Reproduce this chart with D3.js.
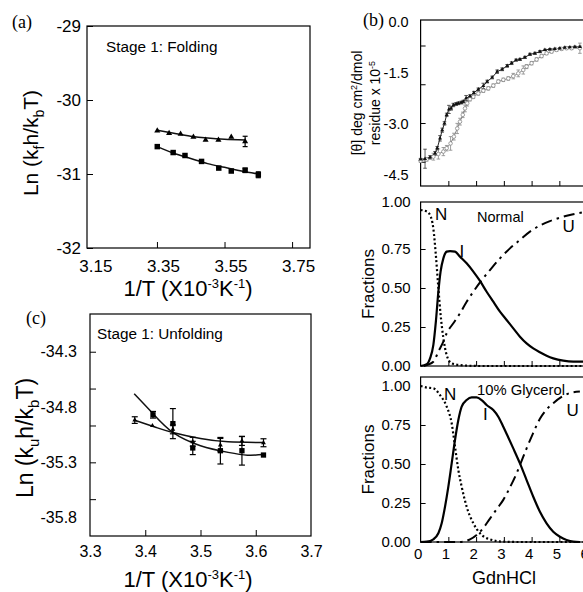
<!DOCTYPE html>
<html><head><meta charset="utf-8">
<script src="https://cdn.jsdelivr.net/npm/d3@7"></script>
<style>
body{margin:0;background:#fff;}
svg{display:block;}
</style></head><body>
<svg id="chart" width="583" height="592"></svg>
<script>
// ---------- Panel (a): Stage 1 folding ----------
const aTempTri = [3.351,3.386,3.420,3.458,3.494,3.532,3.570,3.611];
const aLnTri   = [-30.415,-30.45,-30.46,-30.50,-30.54,-30.54,-30.50,-30.56];
const aErrTri  = [0,0,0,0,0,0,0,0.07];
const aTempSq  = [3.351,3.398,3.433,3.482,3.533,3.570,3.611,3.650];
const aLnSq    = [-30.63,-30.71,-30.75,-30.83,-30.92,-30.96,-30.95,-31.01];
const aErrSq   = [0,0,0,0,0,0,0.03,0.04];
const aFitTriX = [3.351,3.40,3.45,3.50,3.55,3.611];
const aFitTriY = [-30.41,-30.45,-30.49,-30.515,-30.53,-30.54];
const aFitSqX  = [3.351,3.40,3.45,3.50,3.55,3.60,3.65];
const aFitSqY  = [-30.63,-30.72,-30.79,-30.86,-30.91,-30.96,-31.0];
const aXTicks  = [3.15,3.35,3.55,3.75];
const aYTicks  = [-29,-30,-31,-32];

// ---------- Panel (c): Stage 1 unfolding ----------
const cTempSq  = [3.414,3.450,3.486,3.536,3.575,3.614];
const cLnSq    = [-34.87,-34.95,-35.17,-35.195,-35.195,-35.234];
const cErrSq   = [0.03,0.136,0.06,0.12,0.13,0];
const cTempTri = [3.381,3.413,3.450,3.486,3.536,3.575,3.614];
const cLnTri   = [-34.918,-34.969,-35.002,-35.114,-35.144,-35.107,-35.123];
const cErrTri  = [0.03,0,0.04,0.04,0.06,0.04,0.036];
const cFitSqX  = [3.38,3.414,3.45,3.50,3.55,3.585,3.614];
const cFitSqY  = [-34.68,-34.86,-35.03,-35.15,-35.21,-35.235,-35.23];
const cFitTriX = [3.381,3.42,3.45,3.50,3.55,3.614];
const cFitTriY = [-34.92,-34.985,-35.03,-35.085,-35.115,-35.12];
const cXTicks  = [3.3,3.4,3.5,3.6,3.7];
const cYLabels = [-34.3,-34.8,-35.3,-35.8];
const cYMinor  = [-34.3,-34.633,-34.967,-35.3,-35.633];

// ---------- Panel (b): ellipticity vs GdnHCl ----------
const bFilledX = [0,0.16,0.34,0.52,0.60,0.70,0.78,0.86,0.94,1.02,1.10,1.18,1.28,1.36,1.46,1.54,1.64,1.78,1.92,2.08,2.26,2.40,2.58,2.76,2.94,3.12,3.28,3.44,3.58,3.76,3.94,4.12,4.30,4.48,4.66,4.84,5.02,5.20,5.38,5.56,5.74];
const bFilledY = [-4.05,-4.03,-3.99,-3.87,-3.72,-3.43,-3.19,-2.99,-2.74,-2.58,-2.55,-2.45,-2.42,-2.40,-2.38,-2.35,-2.25,-2.19,-2.09,-1.99,-1.89,-1.76,-1.64,-1.47,-1.40,-1.30,-1.22,-1.13,-1.11,-1.05,-0.96,-0.93,-0.88,-0.83,-0.81,-0.80,-0.78,-0.76,-0.75,-0.74,-0.74];
const bFilledE = [0.03,0.28,0.05,0.05,0.05,0.08,0.06,0.05,0.05,0.12,0.05,0.05,0.04,0.04,0.04,0.04,0.08,0.04,0.04,0.04,0.08,0.04,0.04,0.05,0.04,0.04,0.04,0.03,0.03,0.03,0.03,0.03,0.03,0.02,0.02,0.02,0.02,0.02,0.02,0.02,0.02];
const bOpenX = [0,0.22,0.46,0.64,0.82,0.94,1.08,1.20,1.32,1.42,1.52,1.60,1.68,1.78,1.90,2.08,2.26,2.44,2.62,2.80,2.98,3.16,3.34,3.52,3.70,3.82,4.00,4.18,4.36,4.54,4.72,4.90,5.08,5.26,5.44,5.74];
const bOpenY = [-4.09,-4.05,-3.97,-3.89,-3.82,-3.72,-3.58,-3.38,-3.14,-2.94,-2.74,-2.55,-2.40,-2.28,-2.21,-2.11,-2.03,-1.96,-1.88,-1.76,-1.71,-1.67,-1.60,-1.52,-1.42,-1.32,-1.22,-1.11,-1.01,-0.93,-0.88,-0.83,-0.80,-0.78,-0.78,-0.78];
const bOpenE = [0.05,0.05,0.1,0.15,0.12,0.08,0.2,0.1,0.15,0.1,0.08,0.1,0.08,0.05,0.05,0.05,0.05,0.05,0.05,0.05,0.05,0.05,0.08,0.1,0.12,0.06,0.05,0.05,0.05,0.04,0.04,0.04,0.04,0.04,0.04,0.15];
const bTopLabels = [0,-1.5,-3,-4.5];
const bTopMinor  = [-0.70,-1.84,-2.98,-4.12];
const gdnTicks   = [0,1,2,3,4,5,6];
const fracTicks  = [0,0.25,0.5,0.75,1];

// Normal fractions
const nNx = [0,0.22,0.34,0.46,0.55,0.64,0.72,0.82,0.94,1.12,1.42,2.14,3.5,6];
const nNy = [1.0,0.99,0.968,0.88,0.71,0.50,0.33,0.18,0.07,0.017,0.006,0.0,0.0,0.0];
const nIx = [0,0.22,0.34,0.46,0.55,0.64,0.72,0.82,0.94,1.06,1.24,1.42,1.66,1.90,2.14,2.38,2.62,2.86,3.10,3.34,3.58,3.82,4.06,4.30,4.54,4.78,5.14,5.50,5.86];
const nIy = [0.0,0.011,0.049,0.135,0.284,0.476,0.605,0.690,0.733,0.737,0.733,0.701,0.658,0.605,0.545,0.476,0.412,0.348,0.295,0.241,0.188,0.145,0.113,0.088,0.066,0.049,0.034,0.028,0.028];
const nUx = [0.12,0.46,0.64,0.82,0.94,1.18,1.42,1.66,1.90,2.14,2.50,2.86,3.22,3.58,3.94,4.30,4.66,5.02,5.38,5.86];
const nUy = [0.0,0.027,0.092,0.156,0.21,0.274,0.338,0.412,0.476,0.536,0.615,0.69,0.754,0.808,0.861,0.90,0.929,0.951,0.968,0.985];

// 10% glycerol fractions
const gNx = [0,0.22,0.46,0.70,0.94,1.12,1.24,1.36,1.48,1.66,1.90,2.14,2.50,2.98,3.58,6];
const gNy = [1.0,0.99,0.985,0.942,0.868,0.761,0.611,0.462,0.355,0.226,0.12,0.056,0.017,0.002,0.0,0.0];
const gIx = [0,0.22,0.46,0.64,0.76,0.88,1.00,1.12,1.24,1.36,1.48,1.66,1.84,2.02,2.20,2.38,2.62,2.80,2.98,3.16,3.34,3.58,3.82,4.06,4.30,4.54,4.78,5.02,5.26,5.50,5.74];
const gIy = [0.0,0.002,0.017,0.056,0.12,0.226,0.355,0.504,0.654,0.782,0.868,0.91,0.927,0.927,0.91,0.878,0.846,0.803,0.739,0.67,0.60,0.504,0.397,0.29,0.194,0.12,0.066,0.034,0.013,0.002,0.0];
const gUx = [0,1.42,1.78,2.02,2.26,2.50,2.74,2.98,3.22,3.46,3.64,3.82,4.06,4.30,4.54,4.78,5.08,5.38,5.74];
const gUy = [0,0.0,0.017,0.045,0.09,0.15,0.21,0.27,0.35,0.44,0.52,0.60,0.70,0.79,0.85,0.89,0.93,0.955,0.965];

// ================= drawing =================
const svg = d3.select("#chart");
const SANS = '"Liberation Sans", Arial, Helvetica, sans-serif';
const SERIF = '"Liberation Serif", "Times New Roman", serif';
const zip = (xs, ys, es) => xs.map((x,i)=>({x:x, y:ys[i], e: es ? es[i] : 0}));

function styleAxis(g, size){
  g.select(".domain").remove();
  g.selectAll(".tick line").attr("stroke","#000").attr("stroke-width",1);
  g.selectAll(".tick text").attr("font-family",SANS).attr("font-size",size).attr("fill","#000");
  return g;
}
function box(x0,y0,x1,y1,w){
  svg.append("rect").attr("x",x0).attr("y",y0).attr("width",x1-x0).attr("height",y1-y0)
    .attr("fill","none").attr("stroke","#000").attr("stroke-width",w||1.2);
}
function fitLine(xS,yS,xs,ys,w,col){
  svg.append("path").datum(zip(xs,ys))
    .attr("d", d3.line().x(d=>xS(d.x)).y(d=>yS(d.y)).curve(d3.curveNatural))
    .attr("fill","none").attr("stroke",col||"#111").attr("stroke-width",w||1.4);
}
function errBars(xS,yS,data,cap,col,w){
  const g = svg.append("g").attr("stroke",col||"#000").attr("stroke-width",w||1.2);
  data.filter(d=>d.e>0).forEach(d=>{
    const x=xS(d.x), y1=yS(d.y-d.e), y2=yS(d.y+d.e);
    g.append("line").attr("x1",x).attr("x2",x).attr("y1",y1).attr("y2",y2);
    g.append("line").attr("x1",x-cap).attr("x2",x+cap).attr("y1",y1).attr("y2",y1);
    g.append("line").attr("x1",x-cap).attr("x2",x+cap).attr("y1",y2).attr("y2",y2);
  });
}
function markers(xS,yS,data,type,size,fill,stroke,sw){
  svg.append("g").selectAll("path").data(data).join("path")
    .attr("transform",d=>`translate(${xS(d.x)},${yS(d.y)})`)
    .attr("d", d3.symbol(type,size)())
    .attr("fill",fill).attr("stroke",stroke||"none").attr("stroke-width",sw||0);
}
function kLabel(x,y,size,sub){
  const t = svg.append("text").attr("transform",`translate(${x},${y}) rotate(-90)`)
    .attr("text-anchor","middle").attr("font-family",SANS).attr("font-size",size);
  const s = Math.round(size*0.65), d = Math.round(size*0.28);
  t.append("tspan").text("Ln (k");
  t.append("tspan").attr("font-size",s).attr("dy",d).text(sub);
  t.append("tspan").attr("dy",-d).text("h/k");
  t.append("tspan").attr("font-size",s).attr("dy",d).text("b");
  t.append("tspan").attr("dy",-d).text("T)");
}
function invTLabel(x,y,size){
  const t = svg.append("text").attr("x",x).attr("y",y).attr("text-anchor","middle")
    .attr("font-family",SANS).attr("font-size",size);
  const s = Math.round(size*0.6), d = Math.round(size*0.38);
  t.append("tspan").text("1/T (X10");
  t.append("tspan").attr("font-size",s).attr("dy",-d).text("-3");
  t.append("tspan").attr("dy",d).text("K");
  t.append("tspan").attr("font-size",s).attr("dy",-d).text("-1");
  t.append("tspan").attr("dy",d).text(")");
}
function txt(x,y,s,size,fam,anchor){
  return svg.append("text").attr("x",x).attr("y",y).attr("font-family",fam||SANS)
    .attr("font-size",size).attr("text-anchor",anchor||"start").text(s);
}

// ----- Panel (a) -----
{
  const L=87,R=310,T=26,B=248;
  const x = d3.scaleLinear().domain([3.143,3.803]).range([L,R]);
  const y = d3.scaleLinear().domain([-32,-29]).range([B,T]);
  box(L,T,R,B);
  const gx = svg.append("g").attr("transform",`translate(0,${B})`)
    .call(d3.axisBottom(x).tickValues(aXTicks).tickSize(-6).tickPadding(12).tickFormat(d=>d.toFixed(2)));
  styleAxis(gx,17); gx.selectAll(".tick text").attr("dx",6);
  gx.selectAll(".tick").filter(d=>d===3.15).select("line").remove();
  const gy = svg.append("g").attr("transform",`translate(${L},0)`)
    .call(d3.axisLeft(y).tickValues(aYTicks).tickSize(-6).tickPadding(6).tickFormat(d=>String(d)));
  styleAxis(gy,17);
  fitLine(x,y,aFitTriX,aFitTriY,1.5);
  fitLine(x,y,aFitSqX,aFitSqY,1.5);
  const tri = zip(aTempTri,aLnTri,aErrTri), sq = zip(aTempSq,aLnSq,aErrSq);
  errBars(x,y,tri,2.5); errBars(x,y,sq,2.5);
  markers(x,y,tri,d3.symbolTriangle,16,"#000");
  markers(x,y,sq,d3.symbolSquare,30,"#000");
  txt(106,52,"Stage 1: Folding",15.3);
  txt(12,28,"(a)",18,SERIF);
  kLabel(38,143,21,"f");
  invTLabel(188,296,22);
}

// ----- Panel (c) -----
{
  const L=90,R=311,T=314,B=536;
  const x = d3.scaleLinear().domain([3.3,3.7]).range([L,R]);
  const y = d3.scaleLinear().domain([-35.966,-33.959]).range([B,T]);
  box(L,T,R,B);
  const gx = svg.append("g").attr("transform",`translate(0,${B})`)
    .call(d3.axisBottom(x).tickValues(cXTicks).tickSize(-6).tickPadding(10).tickFormat(d=>d.toFixed(1)));
  styleAxis(gx,16);
  gx.selectAll(".tick").filter(d=>d===3.3||d===3.7).select("line").remove();
  const gy = svg.append("g").attr("transform",`translate(${L},0)`)
    .call(d3.axisLeft(y).tickValues(cYLabels).tickSize(0).tickPadding(13).tickFormat(d=>d.toFixed(1)));
  styleAxis(gy,16);
  const gm = svg.append("g").attr("transform",`translate(${L},0)`)
    .call(d3.axisLeft(y).tickValues(cYMinor).tickSize(-6).tickFormat(""));
  styleAxis(gm,16);
  fitLine(x,y,cFitSqX,cFitSqY,1.5);
  fitLine(x,y,cFitTriX,cFitTriY,1.5);
  const tri = zip(cTempTri,cLnTri,cErrTri), sq = zip(cTempSq,cLnSq,cErrSq);
  errBars(x,y,sq,3); errBars(x,y,tri,3);
  markers(x,y,sq,d3.symbolSquare,28,"#000");
  markers(x,y,tri,d3.symbolTriangle,10,"#000");
  txt(97,339,"Stage 1: Unfolding",15.3);
  txt(26,324,"(c)",18,SERIF);
  kLabel(33,438,23,"u");
  invTLabel(188,587,22);
}

// ----- Panel (b) -----
{
  const L=420.6, R=590;
  const x = d3.scaleLinear().domain([0,6]).range([L,587.1]);
  // top subplot
  const T1=20,B1=186;
  const y1 = d3.scaleLinear().domain([-4.8,0]).range([21.7+4.8*34,21.7]);
  box(L,T1,R,B1);
  const g1 = svg.append("g").attr("transform",`translate(${L},0)`)
    .call(d3.axisLeft(y1).tickValues(bTopLabels).tickSize(0).tickPadding(12).tickFormat(d=>d.toFixed(1)));
  styleAxis(g1,14.5);
  styleAxis(svg.append("g").attr("transform",`translate(${L},0)`)
    .call(d3.axisLeft(y1).tickValues(bTopMinor).tickSize(-5).tickFormat("")),14);
  styleAxis(svg.append("g").attr("transform",`translate(0,${B1})`)
    .call(d3.axisBottom(x).tickValues([1,2,3,4,5]).tickSize(-5).tickFormat("")),14);
  const filled = zip(bFilledX,bFilledY,bFilledE), open = zip(bOpenX,bOpenY,bOpenE);
  const ln = d3.line().x(d=>x(d.x)).y(d=>y1(d.y));
  svg.append("path").datum(open).attr("d",ln).attr("fill","none").attr("stroke","#888").attr("stroke-width",1);
  svg.append("path").datum(filled).attr("d",ln).attr("fill","none").attr("stroke","#222").attr("stroke-width",1);
  errBars(x,y1,open,1.8,"#888",0.8);
  errBars(x,y1,filled,1.8,"#333",0.8);
  markers(x,y1,open,d3.symbolCircle,10,"#fff","#888",0.8);
  markers(x,y1,filled,d3.symbolTriangle,7,"#111");
  txt(363,26,"(b)",18,SERIF);
  const t1 = svg.append("text").attr("transform","translate(362,103) rotate(-90)")
    .attr("text-anchor","middle").attr("font-family",SANS).attr("font-size",14);
  t1.append("tspan").text("[θ] deg cm");
  t1.append("tspan").attr("font-size",9).attr("dy",-5).text("2");
  t1.append("tspan").attr("dy",5).text("/dmol");
  const t2 = svg.append("text").attr("transform","translate(380,103) rotate(-90)")
    .attr("text-anchor","middle").attr("font-family",SANS).attr("font-size",14);
  t2.append("tspan").text("residue x 10");
  t2.append("tspan").attr("font-size",9).attr("dy",-5).text("-5");

  // fraction subplots
  function fracPanel(T,B,y0,N,I,U,labels,topShift){
    const y = d3.scaleLinear().domain([0,1]).range([B,y0]);
    box(L,T,R,B);
    const ga = svg.append("g").attr("transform",`translate(${L},0)`)
      .call(d3.axisLeft(y).tickValues(fracTicks).tickSize(0).tickPadding(10).tickFormat(d=>d.toFixed(2)));
    styleAxis(ga,15);
    ga.selectAll(".tick").filter(d=>d===1).select("text").attr("transform",`translate(0,${topShift})`);
    styleAxis(svg.append("g").attr("transform",`translate(${L},0)`)
      .call(d3.axisLeft(y).tickValues([0.25,0.5,0.75]).tickSize(-5).tickFormat("")),14);
    styleAxis(svg.append("g").attr("transform",`translate(0,${B})`)
      .call(d3.axisBottom(x).tickValues([1,2,3,4,5]).tickSize(-5).tickFormat("")),14);
    const l = d3.line().x(d=>x(d.x)).y(d=>y(d.y)).curve(d3.curveMonotoneX);
    svg.append("path").datum(N).attr("d",l).attr("fill","none").attr("stroke","#000")
      .attr("stroke-width",2.2).attr("stroke-dasharray","2,2.4");
    svg.append("path").datum(U).attr("d",l).attr("fill","none").attr("stroke","#000")
      .attr("stroke-width",2).attr("stroke-dasharray","11,5,2.5,5");
    svg.append("path").datum(I).attr("d",l).attr("fill","none").attr("stroke","#000")
      .attr("stroke-width",2.2);
    labels.forEach(a=>txt(a[0],a[1],a[2],a[3]));
    svg.append("text").attr("transform",`translate(374,${(T+B)/2}) rotate(-90)`)
      .attr("text-anchor","middle").attr("font-family",SANS).attr("font-size",17).text("Fractions");
    return y;
  }
  fracPanel(202,366,210, zip(nNx,nNy), zip(nIx,nIy), zip(nUx,nUy),
    [[435,220,"N",17],[477,221.5,"Normal",14.5],[459.5,256.7,"I",17],[562.5,232,"U",17]], -8);
  fracPanel(377,542,386, zip(gNx,gNy), zip(gIx,gIy), zip(gUx,gUy),
    [[444,400,"N",17],[477,395,"10% Glycerol",14.8],[483,420,"I",17],[566.5,416,"U",17]], 0);
  const gb = svg.append("g").attr("transform",`translate(0,542)`)
    .call(d3.axisBottom(x).tickValues(gdnTicks).tickSize(0).tickPadding(6).tickFormat(d=>String(d)));
  styleAxis(gb,15); gb.selectAll(".tick text").attr("dx",-3);
  txt(504,584,"GdnHCl",18,SANS,"middle");
}
</script>
</body></html>
